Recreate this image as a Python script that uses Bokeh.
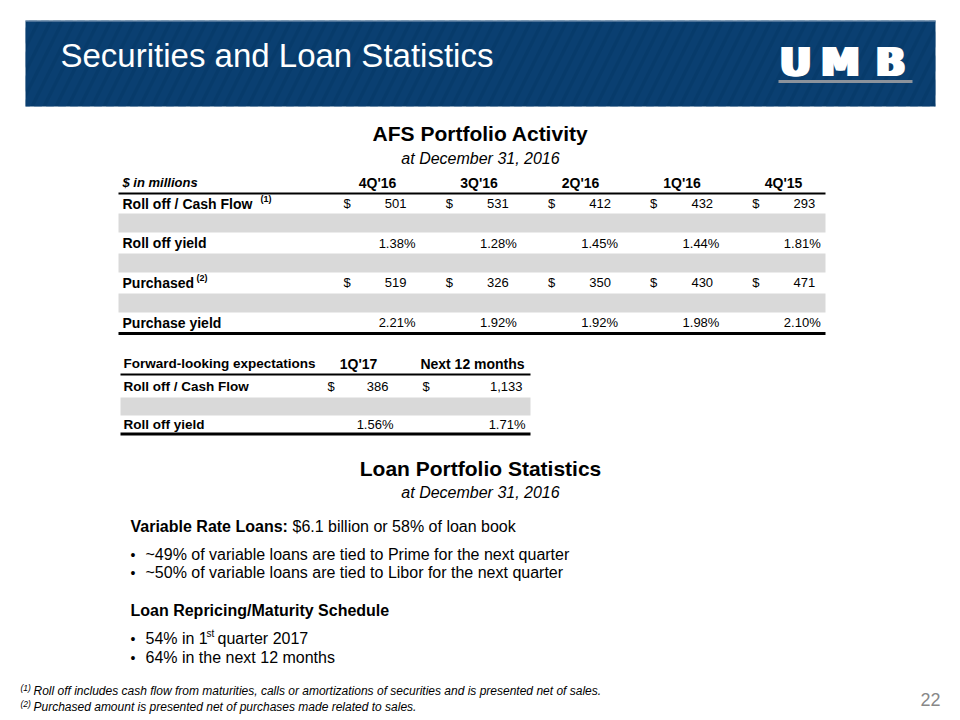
from bokeh.plotting import figure
from bokeh.models import Range1d, ColumnDataSource
from bokeh.core.properties import value
from bokeh.embed import file_html
from bokeh.resources import INLINE

# ---------------- data ----------------
quarters = ["4Q'16", "3Q'16", "2Q'16", "1Q'16", "4Q'15"]
roll_off = [501, 531, 412, 432, 293]
roll_off_yield = [1.38, 1.28, 1.45, 1.44, 1.81]
purchased = [519, 326, 350, 430, 471]
purchase_yield = [2.21, 1.92, 1.92, 1.98, 2.10]
row_labels = ["Roll off / Cash Flow", "Roll off yield", "Purchased", "Purchase yield"]
row_notes = ["(1)", "", "(2)", ""]

fwd_periods = ["1Q'17", "Next 12 months"]
fwd_roll_off = [386, 1133]
fwd_roll_off_yield = [1.56, 1.71]
fwd_labels = ["Roll off / Cash Flow", "Roll off yield"]

FONT = value("Liberation Sans")
NAVY = "#073b6b"

W, H = 944, 718
p = figure(width=W, height=H, output_backend="svg", toolbar_location=None,
           x_range=Range1d(0, W), y_range=Range1d(H, 0), min_border=0)
p.axis.visible = False
p.grid.visible = False
p.outline_line_color = None
p.background_fill_color = "white"


def txt(x, y, s, size, color="black", style="normal", align="left", baseline="middle"):
    p.text(x=[x], y=[y], text=[s], text_font=FONT, text_font_size=f"{size}px",
           text_color=color, text_font_style=style, text_align=align,
           text_baseline=baseline)


# ---------------- header bar ----------------
p.quad(left=[25], right=[935], top=[20], bottom=[106], fill_color=NAVY, line_color=None,
       hatch_pattern="/", hatch_color="#0d4477", hatch_alpha=0.45, hatch_scale=24, hatch_weight=7)
p.segment(x0=[25], x1=[935], y0=[20.5], y1=[20.5], line_color="#8fa6bf", line_width=1)
txt(60, 55, "Securities and Loan Statistics", 33, color="white")
# logo (letters slightly widened by overprinting)
for letter, cx in zip(["U", "M", "B"], [795, 840, 890]):
    for dx in (-2, 0, 2):
        p.text(x=[cx + dx], y=[62], text=[letter], text_font=value("DejaVu Sans"),
               text_font_size="39px", text_color="white", text_font_style="bold",
               text_align="center", text_baseline="middle")
p.quad(left=[778], right=[912], top=[79.5], bottom=[82.5], fill_color="#8c939c", line_color=None)

# ---------------- AFS table ----------------
txt(480, 133, "AFS Portfolio Activity", 21, style="bold", align="center")
txt(480, 158, "at December 31, 2016", 16, style="italic", align="center")

TL, TR = 118, 825
row_y = [203, 242.5, 282, 322]
band_y = [222.5, 262.5, 302.5]
p.quad(left=[TL] * 3, right=[TR] * 3, top=[b - 9.5 for b in band_y], bottom=[b + 9.5 for b in band_y],
       fill_color="#d9d9d9", line_color=None)
p.segment(x0=[TL], x1=[TR], y0=[193], y1=[193], line_color="black", line_width=2)
p.segment(x0=[TL], x1=[TR], y0=[333], y1=[333], line_color="black", line_width=3)

txt(122, 182, "$ in millions", 13, style="bold italic")
hdr_x = [377 + 101.5 * i for i in range(len(quarters))]
p.text(x=hdr_x, y=[182] * len(quarters), text=quarters, text_font=FONT, text_font_size="14px",
       text_font_style="bold", text_align="center", text_baseline="middle")

label_src = ColumnDataSource(dict(x=[122] * 4, y=row_y, t=row_labels))
p.text(x="x", y="y", text="t", source=label_src, text_font=FONT, text_font_size="14px",
       text_font_style="bold", text_baseline="middle")
note_x = {"(1)": 260, "(2)": 196}
for lab, note, y in zip(row_labels, row_notes, row_y):
    if note:
        txt(note_x[note], y - 5, note, 9, style="bold")

dollar_x = [343 + 102.2 * i for i in range(len(quarters))]
val_x = [406 + 102.2 * i for i in range(len(quarters))]
pct_x = [415 + 101.3 * i for i in range(len(quarters))]

for series, y in [(roll_off, row_y[0]), (purchased, row_y[2])]:
    p.text(x=dollar_x, y=[y] * len(series), text=["$"] * len(series), text_font=FONT,
           text_font_size="13px", text_baseline="middle")
    p.text(x=val_x, y=[y] * len(series), text=[f"{v:,}" for v in series], text_font=FONT,
           text_font_size="13px", text_align="right", text_baseline="middle")
for series, y in [(roll_off_yield, row_y[1]), (purchase_yield, row_y[3])]:
    p.text(x=pct_x, y=[y] * len(series), text=[f"{v:.2f}%" for v in series], text_font=FONT,
           text_font_size="13px", text_align="right", text_baseline="middle")

# ---------------- forward-looking table ----------------
FL, FR = 120, 530
p.quad(left=[FL], right=[FR], top=[397], bottom=[415], fill_color="#d9d9d9", line_color=None)
p.segment(x0=[FL], x1=[FR], y0=[374], y1=[374], line_color="black", line_width=2)
p.segment(x0=[FL], x1=[FR], y0=[433.5], y1=[433.5], line_color="black", line_width=3)
txt(123, 363, "Forward-looking expectations", 13.5, style="bold")
p.text(x=[358, 472], y=[363, 363], text=fwd_periods, text_font=FONT, text_font_size="14px",
       text_font_style="bold", text_align="center", text_baseline="middle")
p.text(x=[123, 123], y=[386, 424], text=fwd_labels, text_font=FONT, text_font_size="13.5px",
       text_font_style="bold", text_baseline="middle")
p.text(x=[327, 422], y=[386, 386], text=["$", "$"], text_font=FONT, text_font_size="13px",
       text_baseline="middle")
p.text(x=[388, 522], y=[386, 386], text=[f"{v:,}" for v in fwd_roll_off], text_font=FONT,
       text_font_size="13px", text_align="right", text_baseline="middle")
p.text(x=[393, 525], y=[424, 424], text=[f"{v:.2f}%" for v in fwd_roll_off_yield], text_font=FONT,
       text_font_size="13px", text_align="right", text_baseline="middle")

# ---------------- loan portfolio ----------------
txt(480, 468, "Loan Portfolio Statistics", 21, style="bold", align="center")
txt(480, 492, "at December 31, 2016", 16, style="italic", align="center")
txt(130, 526, "Variable Rate Loans:", 16, style="bold")
txt(292, 526, "$6.1 billion or 58% of loan book", 16)
txt(130, 554, "•", 14)
txt(145, 554, "~49% of variable loans are tied to Prime for the next quarter", 16)
txt(130, 572, "•", 14)
txt(145, 572, "~50% of variable loans are tied to Libor for the next quarter", 16)
txt(130, 610, "Loan Repricing/Maturity Schedule", 16, style="bold")
txt(130, 638, "•", 14)
txt(145, 638, "54% in 1", 16)
txt(206, 633, "st", 10)
txt(217, 638, "quarter 2017", 16)
txt(130, 657, "•", 14)
txt(145, 657, "64% in the next 12 months", 16)

# ---------------- footnotes ----------------
txt(20, 687, "(1)", 8.5, style="italic")
txt(33, 690, "Roll off includes cash flow from maturities, calls or amortizations of securities and is presented net of sales.", 12, style="italic")
txt(20, 703, "(2)", 8.5, style="italic")
txt(33, 706, "Purchased amount is presented net of purchases made related to sales.", 12, style="italic")
txt(940, 699, "22", 18, color="#888888", align="right")

open("out.html", "w").write(file_html(p, INLINE))
